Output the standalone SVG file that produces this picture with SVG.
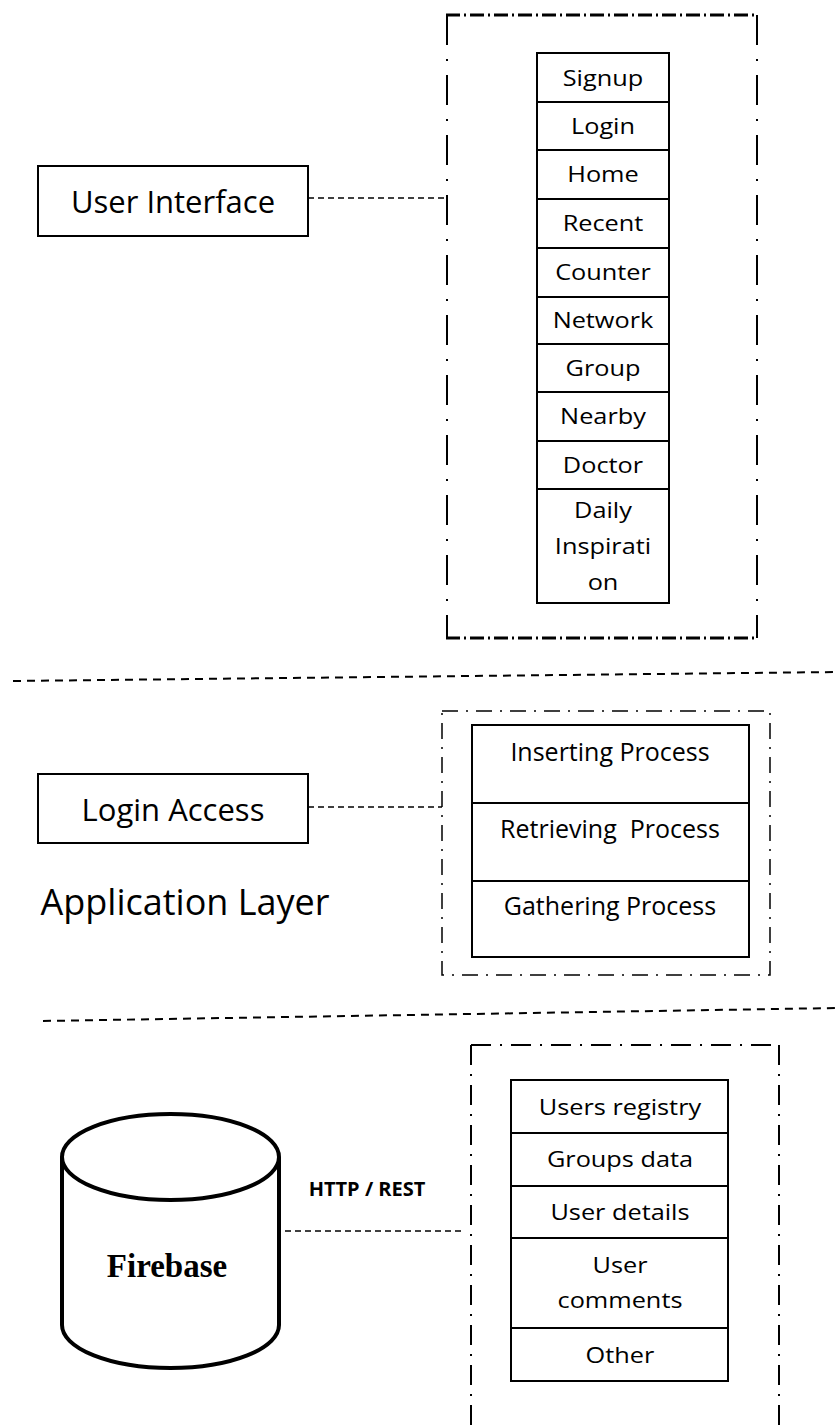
<svg xmlns="http://www.w3.org/2000/svg" width="837" height="1425" viewBox="0 0 837 1425">
<style>
.t{font-family:"Open Sans","Noto Sans",sans-serif;fill:#000;text-anchor:middle}
.item{font-size:22px;transform-box:fill-box;transform-origin:center;transform:scaleX(1.15)}
.proc{font-size:25px}
.box{fill:#fff;stroke:#000;stroke-width:2}
.conn{stroke:#000;stroke-width:1.6;stroke-dasharray:6,4;fill:none}
.sep{stroke:#000;stroke-width:2;stroke-dasharray:8,6;fill:none}
.fr1h{stroke:#000;stroke-width:3;fill:none;stroke-dasharray:14,4,2,4}
.fr1v{stroke:#000;stroke-width:2;fill:none;stroke-dasharray:30,14,2,14}
.fr2{stroke:#000;stroke-width:1.5;fill:none;stroke-dasharray:16,8,2,8}
.fr3{stroke:#000;stroke-width:2;fill:none;stroke-dasharray:20,9,2,9}
</style>
<rect width="837" height="1425" fill="#fff"/>

<g id="connectors">
<line class="conn" x1="308" y1="198" x2="446" y2="198"/>
<line class="conn" x1="308" y1="807" x2="442" y2="807"/>
<line class="conn" x1="285" y1="1231" x2="462" y2="1231"/>
<line class="sep" x1="13" y1="681" x2="837" y2="672"/>
<line class="sep" x1="43" y1="1021" x2="837" y2="1008"/>
</g>

<g id="ui-frame">
<line class="fr1h" x1="446" y1="15" x2="757" y2="15"/>
<line class="fr1h" x1="446" y1="638" x2="757" y2="638"/>
<line class="fr1v" x1="447" y1="15" x2="447" y2="638"/>
<line class="fr1v" x1="757" y1="15" x2="757" y2="638"/>
</g>

<g id="user-interface">
<rect class="box" x="38" y="166" width="270" height="70"/>
<text class="t" x="173" y="213" font-size="31">User Interface</text>
</g>

<g id="ui-list">
<rect class="box" x="537" y="53" width="132" height="550"/>
<line stroke="#000" stroke-width="2" x1="537" y1="102" x2="669" y2="102"/>
<line stroke="#000" stroke-width="2" x1="537" y1="150" x2="669" y2="150"/>
<line stroke="#000" stroke-width="2" x1="537" y1="199" x2="669" y2="199"/>
<line stroke="#000" stroke-width="2" x1="537" y1="248" x2="669" y2="248"/>
<line stroke="#000" stroke-width="2" x1="537" y1="297" x2="669" y2="297"/>
<line stroke="#000" stroke-width="2" x1="537" y1="344" x2="669" y2="344"/>
<line stroke="#000" stroke-width="2" x1="537" y1="392" x2="669" y2="392"/>
<line stroke="#000" stroke-width="2" x1="537" y1="441" x2="669" y2="441"/>
<line stroke="#000" stroke-width="2" x1="537" y1="489" x2="669" y2="489"/>
<text class="t item" x="603" y="86">Signup</text>
<text class="t item" x="603" y="134">Login</text>
<text class="t item" x="603" y="182">Home</text>
<text class="t item" x="603" y="231">Recent</text>
<text class="t item" x="603" y="280">Counter</text>
<text class="t item" x="603" y="328">Network</text>
<text class="t item" x="603" y="376">Group</text>
<text class="t item" x="603" y="424">Nearby</text>
<text class="t item" x="603" y="473">Doctor</text>
<text class="t item" x="603" y="518">Daily</text>
<text class="t item" x="603" y="554">Inspirati</text>
<text class="t item" x="603" y="590">on</text>
</g>

<g id="app-frame">
<rect class="fr2" x="442" y="711" width="328" height="264"/>
</g>

<g id="login-access">
<rect class="box" x="38" y="774" width="270" height="69"/>
<text class="t" x="173" y="821" font-size="31">Login Access</text>
</g>

<g id="app-layer-label">
<text class="t" x="185" y="915" font-size="36">Application Layer</text>
</g>

<g id="process-list">
<rect class="box" x="472" y="725" width="277" height="232"/>
<line stroke="#000" stroke-width="2" x1="472" y1="803" x2="749" y2="803"/>
<line stroke="#000" stroke-width="2" x1="472" y1="881" x2="749" y2="881"/>
<text class="t proc" x="610" y="761">Inserting Process</text>
<text class="t proc" x="610" y="838" xml:space="preserve">Retrieving  Process</text>
<text class="t proc" x="610" y="915">Gathering Process</text>
</g>

<g id="db-frame">
<line class="fr3" x1="471" y1="1045" x2="779" y2="1045"/>
<line class="fr3" x1="471" y1="1045" x2="471" y2="1425"/>
<line class="fr3" x1="779" y1="1045" x2="779" y2="1425"/>
</g>

<g id="firebase">
<path d="M62,1157 L62,1325 A108.5,43 0 0 0 279,1325 L279,1157" fill="#fff" stroke="#000" stroke-width="4"/>
<ellipse cx="170.5" cy="1157" rx="108.5" ry="43" fill="#fff" stroke="#000" stroke-width="4"/>
<text x="167" y="1277" font-family="'Liberation Serif','DejaVu Serif',serif" font-weight="bold" font-size="33" text-anchor="middle">Firebase</text>
</g>

<g id="http-label">
<text class="t" x="367" y="1196" font-size="20" font-weight="bold">HTTP / REST</text>
</g>

<g id="db-list">
<rect class="box" x="511" y="1080" width="217" height="301"/>
<line stroke="#000" stroke-width="2" x1="511" y1="1133" x2="728" y2="1133"/>
<line stroke="#000" stroke-width="2" x1="511" y1="1186" x2="728" y2="1186"/>
<line stroke="#000" stroke-width="2" x1="511" y1="1238" x2="728" y2="1238"/>
<line stroke="#000" stroke-width="2" x1="511" y1="1328" x2="728" y2="1328"/>
<text class="t item" x="620" y="1115">Users registry</text>
<text class="t item" x="620" y="1167">Groups data</text>
<text class="t item" x="620" y="1220">User details</text>
<text class="t item" x="620" y="1273">User</text>
<text class="t item" x="620" y="1308">comments</text>
<text class="t item" x="620" y="1363">Other</text>
</g>
</svg>
